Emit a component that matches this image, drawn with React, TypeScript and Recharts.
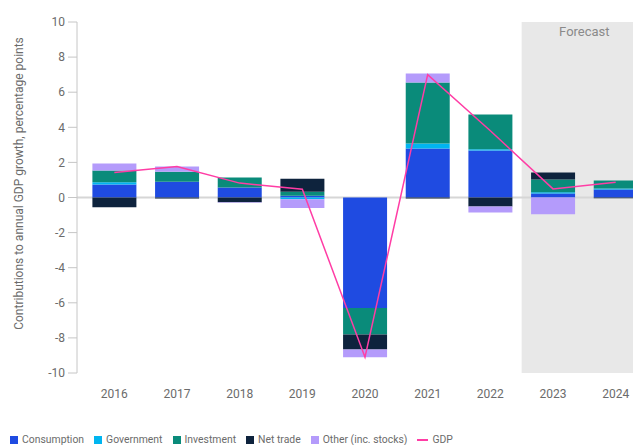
import React from 'react';
import {
  BarChart,
  Bar,
  Line,
  XAxis,
  YAxis,
  Legend,
  ReferenceArea,
  ReferenceLine,
} from 'recharts';

const years = ['2016', '2017', '2018', '2019', '2020', '2021', '2022', '2023', '2024'];
const consumption = [0.74, 0.9, 0.57, 0.1, -6.3, 2.79, 2.68, 0.23, 0.46];
const government = [0.13, 0, 0, -0.1, 0, 0.29, 0.07, 0.07, 0.05];
const investment = [0.67, 0.57, 0.57, 0.23, -1.5, 3.47, 1.98, 0.73, 0.46];
const netTrade = [-0.55, -0.05, -0.27, 0.74, -0.86, -0.05, -0.51, 0.39, -0.04];
const other = [0.4, 0.29, -0.03, -0.5, -0.44, 0.52, -0.34, -0.95, 0];
const gdp = [1.42, 1.76, 0.82, 0.47, -9.1, 7.0, 3.8, 0.49, 0.87];
const yTicks = [-10, -8, -6, -4, -2, 0, 2, 4, 6, 8, 10];
const legendOrder = ['Consumption', 'Government', 'Investment', 'Net trade', 'Other (inc. stocks)', 'GDP'];

const data = years.map((year, i) => ({
  year,
  consumption: consumption[i],
  government: government[i],
  investment: investment[i],
  netTrade: netTrade[i],
  other: other[i],
  gdp: gdp[i],
}));

const textColor = '#6b6b6b';

const YLabel = (props: any) => {
  const { x, y, height } = props.viewBox;
  const cx = x + 19;
  const cy = y + height / 2 - 14;
  return (
    <text
      x={cx}
      y={cy}
      transform={`rotate(-90, ${cx}, ${cy})`}
      textAnchor="middle"
      dominantBaseline="central"
      fontSize={12}
      fill={textColor}
    >
      Contributions to annual GDP growth, percentage points
    </text>
  );
};

const renderLegend = (props: any) => {
  const items = [...props.payload].sort(
    (a: any, b: any) => legendOrder.indexOf(a.value) - legendOrder.indexOf(b.value)
  );
  return (
    <div style={{ display: 'flex', alignItems: 'center', fontSize: 10.4, color: textColor, lineHeight: '16px' }}>
      {items.map((entry: any) => (
        <span key={entry.value} style={{ display: 'flex', alignItems: 'center', marginRight: 10 }}>
          {entry.type === 'plainline' ? (
            <span style={{ width: 11, height: 2, background: entry.color, marginRight: 4 }} />
          ) : (
            <span style={{ width: 8, height: 8, background: entry.color, marginRight: 4 }} />
          )}
          {entry.value}
        </span>
      ))}
    </div>
  );
};

const App: React.FC = () => {
  return (
    <div
      style={{
        position: 'absolute',
        left: 0,
        top: 0,
        width: 633,
        height: 445,
        overflow: 'hidden',
        background: '#fff',
        fontFamily: 'Roboto, sans-serif',
      }}
    >
      <BarChart
        width={650}
        height={445}
        data={data}
        stackOffset="sign"
        barCategoryGap="15%"
        margin={{ top: 22, right: 3, bottom: 26, left: 0 }}
      >
        <ReferenceArea
          x1="2023"
          x2="2024"
          fill="#e8e8e8"
          fillOpacity={1}
          stroke="none"
          zIndex={-60}
          label={{ value: 'Forecast', position: 'insideTop', offset: 5, fill: '#8a8a8a', fontSize: 13 }}
        />
        <ReferenceLine y={0} stroke="#d6d6d6" strokeWidth={2} zIndex={50} />
        <XAxis
          dataKey="year"
          axisLine={false}
          tickLine={false}
          tickSize={6}
          tickMargin={10}
          height={30}
          padding={{ left: 6, right: 0 }}
          tick={{ fill: textColor, fontSize: 12 }}
        />
        <YAxis
          domain={[-10, 10]}
          ticks={yTicks}
          width={77}
          tickSize={9}
          tickMargin={3}
          axisLine={{ stroke: '#c6c6c6' }}
          tickLine={{ stroke: '#c6c6c6' }}
          tick={{ fill: textColor, fontSize: 12 }}
          label={<YLabel />}
        />
        <Legend
          content={renderLegend}
          wrapperStyle={{ left: 10, top: 432, bottom: 'auto', width: 'auto', height: 16 }}
        />
        <Bar dataKey="consumption" name="Consumption" stackId="a" fill="#1f4be1" isAnimationActive={false} />
        <Bar dataKey="government" name="Government" stackId="a" fill="#00b5f0" isAnimationActive={false} />
        <Bar dataKey="investment" name="Investment" stackId="a" fill="#0a8b7a" isAnimationActive={false} />
        <Bar dataKey="netTrade" name="Net trade" stackId="a" fill="#0e233d" isAnimationActive={false} />
        <Bar dataKey="other" name="Other (inc. stocks)" stackId="a" fill="#b49bfb" isAnimationActive={false} />
        <Line
          dataKey="gdp"
          name="GDP"
          type="linear"
          stroke="#ff3da5"
          strokeWidth={1.5}
          dot={false}
          legendType="plainline"
          isAnimationActive={false}
        />
      </BarChart>
    </div>
  );
};

export default App;
